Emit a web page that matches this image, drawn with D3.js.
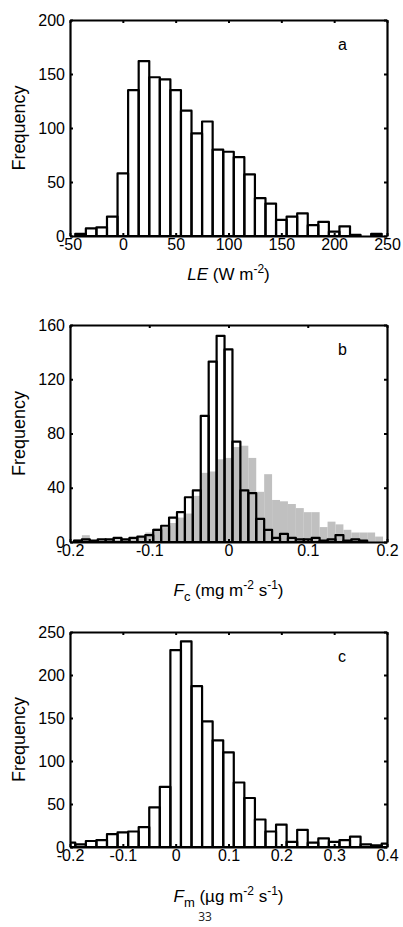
<!DOCTYPE html>
<html>
<head>
<meta charset="utf-8">
<script src="https://cdn.jsdelivr.net/npm/d3@7"></script>
<style>
    body { margin: 0; background: #fff; }
    svg { display: block; font-family: "Liberation Sans", Arial, sans-serif; }
</style>
</head>
<body>
<svg id="fig" width="403" height="927"></svg>
<script>
// Panel a: latent heat flux LE (bin centres and counts)
const leBins = [-40, -30, -20, -10, 0, 10, 20, 30, 40, 50, 60, 70, 80, 90, 100,
    110, 120, 130, 140, 150, 160, 170, 180, 190, 200, 210, 220, 230, 240];
const leCounts = [2, 7, 8, 18, 58, 135, 162, 147, 145, 135, 116, 95, 106, 80, 78,
    73, 57, 35, 30, 15, 18, 21, 10, 13, 4, 9, 1, 0, 2];
const leTicksX = [-50, 0, 50, 100, 150, 200, 250];
const leTicksY = [0, 50, 100, 150, 200];

// Panel b: CO2 flux Fc, outlined bars and grey bars
const fcBins = [-0.19, -0.18, -0.17, -0.16, -0.15, -0.14, -0.13, -0.12, -0.11, -0.10,
    -0.09, -0.08, -0.07, -0.06, -0.05, -0.04, -0.03, -0.02, -0.01, 0,
    0.01, 0.02, 0.03, 0.04, 0.05, 0.06, 0.07, 0.08, 0.09, 0.10,
    0.11, 0.12, 0.13, 0.14, 0.15, 0.16, 0.17, 0.18, 0.19];
const fcCounts = [1, 2, 1, 2, 2, 3, 2, 3, 4, 5,
    9, 12, 18, 22, 33, 38, 93, 133, 152, 142,
    74, 38, 36, 17, 9, 3, 6, 3, 2, 2,
    3, 1, 2, 5, 1, 2, 1, 0, 0];
const fcGrey = [2, 5, 1, 1, 2, 2, 2, 3, 4, 7,
    10, 11, 14, 18, 21, 34, 51, 52, 61, 62,
    70, 71, 62, 37, 50, 31, 30, 28, 25, 22,
    22, 11, 15, 13, 9, 7, 7, 7, 4];
const fcTicksX = [-0.2, -0.1, 0, 0.1, 0.2];
const fcTicksY = [0, 40, 80, 120, 160];

// Panel c: methane flux Fm
const fmBins = [-0.20, -0.18, -0.16, -0.14, -0.12, -0.10, -0.08, -0.06, -0.04, -0.02,
    0, 0.02, 0.04, 0.06, 0.08, 0.10, 0.12, 0.14, 0.16, 0.18,
    0.20, 0.22, 0.24, 0.26, 0.28, 0.30, 0.32, 0.34, 0.36, 0.38, 0.40];
const fmCounts = [5, 3, 7, 8, 15, 17, 18, 23, 46, 70,
    229, 239, 187, 146, 124, 110, 75, 57, 32, 18,
    26, 6, 20, 5, 10, 6, 8, 12, 3, 2, 4];
const fmTicksX = [-0.2, -0.1, 0, 0.1, 0.2, 0.3, 0.4];
const fmTicksY = [0, 50, 100, 150, 200, 250];

const PLOT_LEFT = 70;
const PLOT_RIGHT = 387;
const TICK_LEN = 3;
const LINE_W = 2.2;
const GREY = "#c0c0c0";

const panels = [
    { id: "a", top: 20, bottom: 236, xDomain: [-50, 250], yDomain: [0, 200], binWidth: 10,
      bins: leBins, counts: leCounts, xTicks: leTicksX, yTicks: leTicksY, labelY: 280,
      label: [{ t: "LE", italic: true }, { t: " (W m" }, { t: "-2", sup: true }, { t: ")" }] },
    { id: "b", top: 325, bottom: 542, xDomain: [-0.2, 0.2], yDomain: [0, 160], binWidth: 0.01,
      bins: fcBins, counts: fcCounts, grey: fcGrey, xTicks: fcTicksX, yTicks: fcTicksY, labelY: 596,
      label: [{ t: "F", italic: true }, { t: "c", sub: true }, { t: " (mg m" }, { t: "-2", sup: true },
              { t: " s" }, { t: "-1", sup: true }, { t: ")" }] },
    { id: "c", top: 632, bottom: 847, xDomain: [-0.2, 0.4], yDomain: [0, 250], binWidth: 0.02,
      bins: fmBins, counts: fmCounts, xTicks: fmTicksX, yTicks: fmTicksY, labelY: 902,
      label: [{ t: "F", italic: true }, { t: "m", sub: true }, { t: " (\u00b5g m" }, { t: "-2", sup: true },
              { t: " s" }, { t: "-1", sup: true }, { t: ")" }] }
];

const svg = d3.select("#fig");

/**
 * Build the x axis label out of plain, sub- and superscript pieces.
 */
function drawLabel(text, parts) {
    let shift = 0;
    parts.forEach((p) => {
        const target = p.sup ? -7 : p.sub ? 5 : 0;
        const ts = text.append("tspan")
            .attr("dy", target - shift)
            .text(p.t);
        if (p.sup) ts.attr("font-size", 12);
        if (p.sub) ts.attr("font-size", 13);
        if (p.italic) ts.attr("font-style", "italic");
        shift = target;
    });
}

function drawPanel(p) {
    const x = d3.scaleLinear().domain(p.xDomain).range([PLOT_LEFT, PLOT_RIGHT]);
    const y = d3.scaleLinear().domain(p.yDomain).range([p.bottom, p.top]);
    const g = svg.append("g").attr("class", "panel-" + p.id);

    g.append("clipPath").attr("id", "clip-" + p.id)
        .append("rect")
        .attr("x", PLOT_LEFT).attr("y", p.top - 5)
        .attr("width", PLOT_RIGHT - PLOT_LEFT).attr("height", p.bottom - p.top + 5);

    const bars = g.append("g").attr("clip-path", `url(#clip-${p.id})`);
    const half = p.binWidth / 2;
    const rows = p.bins.map((c, i) => ({ c, v: p.counts[i], grey: p.grey ? p.grey[i] : 0 }));

    // white body of the outlined bars
    bars.selectAll("rect.fill").data(rows).join("rect")
        .attr("class", "fill")
        .attr("x", (d) => x(d.c - half))
        .attr("width", (d) => x(d.c + half) - x(d.c - half))
        .attr("y", (d) => y(d.v))
        .attr("height", (d) => y(0) - y(d.v))
        .attr("fill", "#fff");

    if (p.grey) {
        bars.selectAll("rect.grey").data(rows).join("rect")
            .attr("class", "grey")
            .attr("x", (d) => x(d.c - half))
            .attr("width", (d) => x(d.c + half) - x(d.c - half))
            .attr("y", (d) => y(d.grey))
            .attr("height", (d) => y(0) - y(d.grey))
            .attr("fill", GREY);
    }

    bars.selectAll("rect.edge").data(rows).join("rect")
        .attr("class", "edge")
        .attr("x", (d) => x(d.c - half))
        .attr("width", (d) => x(d.c + half) - x(d.c - half))
        .attr("y", (d) => y(d.v))
        .attr("height", (d) => y(0) - y(d.v))
        .attr("fill", "none")
        .attr("stroke", "#000")
        .attr("stroke-width", LINE_W)
        .attr("stroke-linejoin", "round");

    const fmt = (d) => String(d);
    const styleAxis = (a) => {
        a.select(".domain").attr("stroke-width", LINE_W);
        a.selectAll(".tick line").attr("stroke-width", 2);
        a.selectAll("text").attr("font-size", 16).attr("fill", "#000")
            .attr("font-family", "Liberation Sans, Arial, sans-serif");
    };

    g.append("g").attr("transform", `translate(0,${p.bottom})`)
        .call(d3.axisBottom(x).tickValues(p.xTicks).tickFormat(fmt)
            .tickSizeInner(-TICK_LEN).tickSizeOuter(0).tickPadding(3))
        .call(styleAxis);
    g.append("g").attr("transform", `translate(0,${p.top})`)
        .call(d3.axisTop(x).tickValues(p.xTicks).tickFormat("")
            .tickSizeInner(-TICK_LEN).tickSizeOuter(0))
        .call(styleAxis);
    g.append("g").attr("transform", `translate(${PLOT_LEFT},0)`)
        .call(d3.axisLeft(y).tickValues(p.yTicks).tickFormat(fmt)
            .tickSizeInner(-TICK_LEN).tickSizeOuter(0).tickPadding(5))
        .call(styleAxis);
    g.append("g").attr("transform", `translate(${PLOT_RIGHT},0)`)
        .call(d3.axisRight(y).tickValues(p.yTicks).tickFormat("")
            .tickSizeInner(-TICK_LEN).tickSizeOuter(0))
        .call(styleAxis);

    // panel letter
    g.append("text")
        .attr("x", 338).attr("y", p.top + 30)
        .attr("font-size", 16)
        .text(p.id);

    // axis titles
    g.append("text")
        .attr("transform", `translate(25,${(p.top + p.bottom) / 2}) rotate(-90)`)
        .attr("text-anchor", "middle")
        .attr("font-size", 18)
        .text("Frequency");

    const xl = g.append("text")
        .attr("x", (PLOT_LEFT + PLOT_RIGHT) / 2)
        .attr("y", p.labelY)
        .attr("text-anchor", "middle")
        .attr("font-size", 17);
    drawLabel(xl, p.label);
}

panels.forEach(drawPanel);

// page number
svg.append("text")
    .attr("x", 205).attr("y", 921)
    .attr("text-anchor", "middle")
    .attr("font-size", 12)
    .attr("font-family", "Open Sans, sans-serif")
    .attr("fill", "#222")
    .text("33");
</script>
</body>
</html>
